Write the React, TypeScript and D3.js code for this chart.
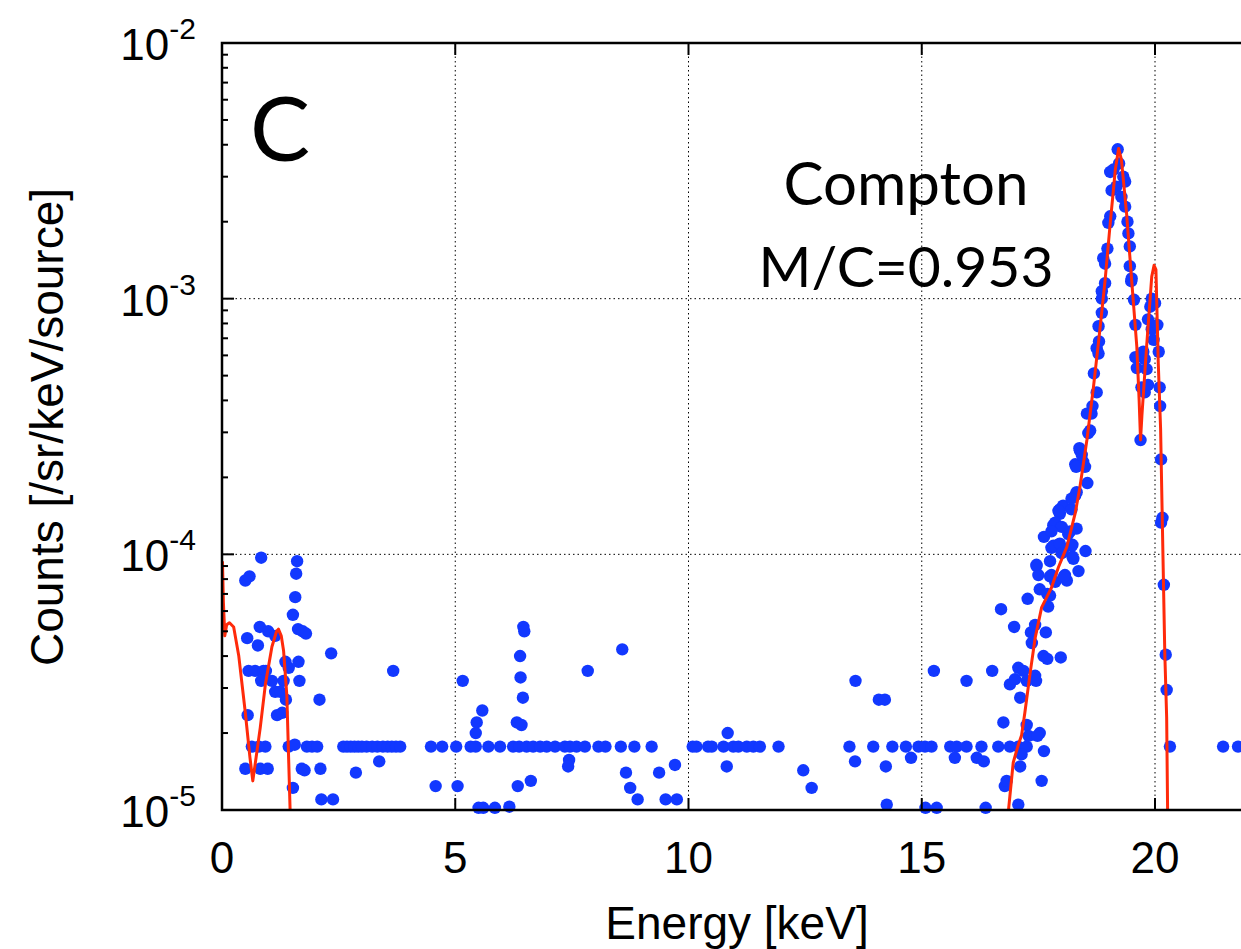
import React from "react";
import * as d3 from "d3";

// ---------- data ----------
const xTicks = [0, 5, 10, 15, 20];
const yExponents = [-2, -3, -4, -5];
const panelLabel = "C";
const annotationLines = ["Compton", "M/C=0.953"];
const xLabel = "Energy [keV]";
const yLabel = "Counts [/sr/keV/source]";

// measured points [energy keV, counts]
const lowEnergyPoints: [number, number][] = [
  [0.5, 7.9e-5], [0.59, 8.2e-5], [0.84, 9.7e-5], [1.61, 9.4e-5], [1.59, 8.4e-5],
  [1.57, 6.8e-5], [1.52, 5.8e-5], [0.81, 5.2e-5], [0.99, 5.0e-5], [1.14, 4.8e-5],
  [1.63, 5.1e-5], [1.73, 5.0e-5], [1.8, 4.9e-5], [0.54, 4.7e-5], [0.77, 4.4e-5],
  [2.34, 4.1e-5], [1.36, 3.8e-5], [1.43, 3.6e-5], [1.64, 3.8e-5], [0.57, 3.5e-5],
  [0.71, 3.5e-5], [0.89, 3.5e-5], [0.94, 3.5e-5], [0.84, 3.2e-5], [1.07, 3.2e-5],
  [1.32, 3.2e-5], [1.66, 3.2e-5], [1.14, 2.9e-5], [1.25, 2.9e-5], [1.37, 2.7e-5],
  [2.09, 2.7e-5], [0.55, 2.35e-5], [1.18, 2.35e-5], [1.29, 2.4e-5],
  [0.64, 1.77e-5], [0.79, 1.77e-5], [0.93, 1.77e-5], [1.43, 1.77e-5], [1.56, 1.8e-5],
  [1.82, 1.77e-5], [1.93, 1.77e-5], [2.04, 1.77e-5],
  [0.5, 1.45e-5], [0.82, 1.45e-5], [0.98, 1.45e-5], [1.71, 1.45e-5], [1.77, 1.43e-5],
  [2.11, 1.45e-5], [1.52, 1.22e-5], [2.13, 1.1e-5], [2.38, 1.1e-5],
];

const midEnergyPoints: [number, number][] = [
  [3.67, 3.5e-5], [3.37, 1.55e-5], [2.87, 1.4e-5],
  [2.6, 1.77e-5], [2.68, 1.77e-5], [2.76, 1.77e-5], [2.84, 1.77e-5], [2.92, 1.77e-5],
  [3.0, 1.77e-5], [3.1, 1.77e-5], [3.22, 1.77e-5], [3.33, 1.77e-5], [3.45, 1.77e-5],
  [3.55, 1.77e-5], [3.64, 1.77e-5], [3.73, 1.77e-5], [3.82, 1.77e-5],
  [4.48, 1.77e-5], [4.72, 1.77e-5], [5.02, 1.77e-5], [5.33, 1.77e-5], [5.44, 1.77e-5],
  [5.71, 1.77e-5], [5.96, 1.77e-5], [6.24, 1.77e-5], [6.37, 1.77e-5], [6.53, 1.77e-5],
  [6.67, 1.77e-5], [6.82, 1.77e-5], [6.96, 1.77e-5], [7.14, 1.77e-5], [7.35, 1.77e-5],
  [7.46, 1.77e-5], [7.6, 1.77e-5], [7.78, 1.77e-5], [8.07, 1.77e-5], [8.22, 1.77e-5],
  [8.55, 1.77e-5], [8.84, 1.77e-5], [9.21, 1.77e-5], [10.09, 1.77e-5],
  [5.16, 3.2e-5], [5.58, 2.45e-5], [5.46, 2.2e-5], [5.44, 2.0e-5], [4.58, 1.24e-5],
  [5.05, 1.24e-5], [5.5, 1.02e-5], [5.6, 1.02e-5], [5.85, 1.02e-5], [6.16, 1.03e-5],
  [6.46, 5.2e-5], [6.48, 5.0e-5], [8.58, 4.25e-5], [6.39, 4.0e-5], [7.84, 3.5e-5],
  [6.4, 3.3e-5], [6.45, 2.75e-5], [6.32, 2.2e-5], [6.42, 2.15e-5], [7.44, 1.57e-5],
  [7.42, 1.48e-5], [9.71, 1.5e-5], [6.34, 1.24e-5], [6.62, 1.3e-5], [8.66, 1.4e-5],
  [8.75, 1.22e-5], [8.91, 1.1e-5], [9.37, 1.4e-5], [9.51, 1.1e-5], [9.75, 1.1e-5],
  [10.17, 1.77e-5], [10.42, 1.77e-5], [10.5, 1.77e-5], [10.75, 1.77e-5], [10.96, 1.77e-5],
  [11.07, 1.77e-5], [11.25, 1.77e-5], [11.39, 1.77e-5], [11.53, 1.77e-5], [11.93, 1.77e-5],
  [10.84, 2.0e-5], [10.82, 1.48e-5], [12.46, 1.43e-5], [12.64, 1.22e-5],
  [13.58, 3.2e-5], [14.08, 2.7e-5], [14.21, 2.7e-5],
  [13.45, 1.77e-5], [13.96, 1.77e-5], [14.37, 1.77e-5], [14.66, 1.77e-5], [14.93, 1.77e-5],
  [15.07, 1.77e-5], [15.21, 1.77e-5], [15.61, 1.77e-5], [15.75, 1.77e-5], [15.96, 1.77e-5],
  [14.77, 1.6e-5], [13.57, 1.55e-5], [14.23, 1.48e-5], [15.71, 1.6e-5], [16.18, 1.6e-5],
  [14.25, 1.05e-5], [15.08, 1.02e-5], [15.32, 1.02e-5], [15.26, 3.5e-5], [15.96, 3.2e-5],
];

const peakPoints: [number, number][] = [
  [16.37, 1.02e-5], [17.07, 1.05e-5], [16.78, 1.24e-5], [16.82, 1.3e-5], [17.57, 1.3e-5],
  [17.11, 1.48e-5], [16.28, 1.77e-5], [16.64, 1.77e-5], [16.89, 1.77e-5], [17.07, 1.77e-5],
  [16.33, 1.55e-5], [17.25, 1.77e-5], [17.14, 1.65e-5], [17.62, 1.7e-5], [17.25, 2.15e-5],
  [17.29, 1.95e-5], [17.53, 2.0e-5], [17.48, 1.95e-5], [16.75, 2.2e-5], [17.11, 2.75e-5],
  [16.89, 3.1e-5], [17.0, 3.25e-5], [17.07, 3.6e-5], [17.18, 3.5e-5], [17.25, 3.2e-5],
  [17.43, 3.35e-5], [17.45, 3.2e-5], [16.51, 3.5e-5], [17.61, 4.0e-5], [17.69, 3.9e-5],
  [17.98, 3.95e-5], [17.36, 4.5e-5], [17.34, 4.95e-5], [17.43, 5.3e-5], [17.66, 4.95e-5],
  [16.98, 5.2e-5], [16.7, 6.1e-5], [17.27, 6.7e-5], [17.71, 6.25e-5], [17.53, 7.3e-5],
  [17.69, 7.0e-5], [17.46, 9.0e-5], [17.5, 8.3e-5], [17.78, 8.3e-5], [18.07, 8.3e-5],
  [18.11, 7.9e-5], [18.36, 8.6e-5], [17.75, 9.4e-5], [18.25, 9.6e-5], [17.75, 6.9e-5],
  [17.86, 7.8e-5], [18.05, 8.2e-5], [18.51, 1.03e-4], [18.23, 9.8e-5], [18.23, 1.09e-4],
  [17.62, 1.17e-4], [17.82, 1.3e-4], [17.96, 1.44e-4], [18.14, 1.2e-4], [18.32, 1.26e-4],
  [17.78, 1.06e-4], [17.93, 1.09e-4], [18.03, 1.04e-4], [17.96, 1.5e-4], [18.03, 1.55e-4],
  [18.21, 1.5e-4], [18.29, 1.7e-4], [18.32, 1.75e-4], [18.55, 1.9e-4], [18.29, 2.25e-4],
  [18.39, 2.55e-4], [18.46, 2.3e-4], [18.5, 2.2e-4], [18.57, 2.98e-4], [18.61, 3.05e-4],
  [18.75, 4.3e-4], [18.66, 3.8e-4], [18.54, 3.55e-4], [18.64, 3.55e-4], [18.38, 2.6e-4],
  [18.43, 2.45e-4], [18.31, 2.2e-4], [18.21, 1.65e-4], [17.93, 1.48e-4], [17.86, 1.33e-4],
  [18.0, 1.28e-4], [18.18, 1.23e-4], [17.78, 1.23e-4], [17.82, 1.08e-4], [17.96, 1.1e-4],
  [18.21, 1.08e-4], [18.0, 1.01e-4], [17.46, 9.1e-5], [17.75, 8.2e-5],
  [19.2, 3.84e-3], [19.23, 3.38e-3], [19.04, 3.13e-3], [19.11, 3.2e-3], [19.32, 3.0e-3],
  [19.36, 2.87e-3], [19.07, 2.65e-3], [19.17, 2.74e-3], [19.28, 2.5e-3], [19.36, 2.29e-3],
  [19.04, 2.1e-3], [19.0, 1.98e-3], [19.41, 2.0e-3], [19.43, 1.8e-3], [18.98, 1.57e-3],
  [18.89, 1.44e-3], [18.93, 1.37e-3], [19.46, 1.6e-3], [19.46, 1.34e-3], [19.5, 1.2e-3],
  [19.49, 1.17e-3], [18.93, 1.15e-3], [18.86, 1.07e-3], [18.86, 1.0e-3], [19.55, 9.9e-4],
  [18.86, 8.8e-4], [18.79, 7.8e-4], [19.58, 7.9e-4], [18.8, 6.8e-4], [18.75, 6.4e-4],
  [18.79, 6.1e-4], [18.69, 5.1e-4], [19.58, 5.9e-4], [19.61, 5.35e-4], [19.75, 6.2e-4],
  [19.78, 5.8e-4], [19.71, 4.5e-4], [19.78, 4.3e-4], [19.85, 4.6e-4], [19.93, 1.0e-3],
  [20.0, 9.6e-4], [19.9, 9.3e-4], [19.85, 8.3e-4], [19.93, 7.6e-4], [20.05, 7.9e-4],
  [19.97, 6.9e-4], [20.08, 6.2e-4], [20.1, 4.5e-4], [20.11, 3.8e-4], [19.82, 5.3e-4],
  [19.69, 2.8e-4], [20.13, 2.35e-4], [20.16, 1.39e-4], [20.13, 1.33e-4], [20.19, 7.6e-5],
  [20.23, 4.05e-5], [20.25, 2.95e-5], [20.32, 1.77e-5], [21.46, 1.77e-5], [21.78, 1.77e-5],
];

// model curve segments [energy keV, counts]
const modelLow: [number, number][] = [
  [0.01, 9.4e-5], [0.03, 6.5e-5], [0.06, 4.8e-5], [0.1, 5.3e-5], [0.16, 5.4e-5],
  [0.25, 5.2e-5], [0.36, 4.0e-5], [0.5, 2.4e-5], [0.6, 1.6e-5], [0.66, 1.3e-5],
  [0.73, 1.6e-5], [0.82, 2.1e-5], [0.93, 3.1e-5], [1.07, 4.35e-5], [1.17, 5.0e-5],
  [1.21, 5.1e-5], [1.27, 4.8e-5], [1.32, 4.2e-5], [1.39, 2.8e-5], [1.46, 1.0e-5],
  [1.48, 8e-6],
];

const modelPeak: [number, number][] = [
  [16.84, 8e-6], [16.86, 1.0e-5], [16.96, 1.53e-5], [17.07, 1.8e-5], [17.14, 1.96e-5],
  [17.21, 2.4e-5], [17.32, 3.4e-5], [17.43, 4.7e-5], [17.57, 6.2e-5], [17.68, 6.8e-5],
  [17.78, 7.4e-5], [17.93, 8.9e-5], [18.11, 1.07e-4], [18.29, 1.45e-4], [18.39, 1.83e-4],
  [18.54, 2.8e-4], [18.68, 4.5e-4], [18.82, 7.6e-4], [18.93, 1.18e-3], [19.04, 1.97e-3],
  [19.15, 3.2e-3], [19.22, 3.87e-3], [19.28, 3.5e-3], [19.39, 2.16e-3], [19.5, 1.18e-3],
  [19.61, 6.5e-4], [19.66, 4.0e-4], [19.69, 2.8e-4], [19.72, 3.5e-4], [19.82, 6.5e-4],
  [19.93, 1.22e-3], [19.98, 1.35e-3], [20.02, 1.3e-3], [20.07, 5.6e-4], [20.12, 3.1e-4],
  [20.17, 1.0e-4], [20.21, 4.1e-5], [20.25, 2.3e-5], [20.27, 1.0e-5], [20.28, 8e-6],
];

// ---------- layout ----------
const W = 1241;
const H = 949;
const left = 222;
const top = 43;
const bottom = 810;
const pxPerKeV = 46.65;

export default function App() {
  const x = d3.scaleLinear().domain([0, 20]).range([left, left + 20 * pxPerKeV]);
  const y = d3.scaleLog().domain([1e-5, 1e-2]).range([bottom, top]);
  const right = W + 10;

  const line = d3
    .line<[number, number]>()
    .x((d) => x(d[0]))
    .y((d) => y(d[1]));

  const allPoints = [...lowEnergyPoints, ...midEnergyPoints, ...peakPoints];

  const minorTicks: number[] = [];
  for (const e of [-5, -4, -3]) {
    for (let k = 2; k <= 9; k++) minorTicks.push(k * Math.pow(10, e));
  }

  const axisFont = "'Liberation Sans', Arial, Helvetica, sans-serif";
  const annotFont = "Lato, 'Open Sans', sans-serif";
  const blue = "#1238ff";
  const red = "#ff2a0a";

  return (
    <svg
      width={W}
      height={H}
      style={{ position: "absolute", left: 0, top: 0, background: "#fff" }}
    >
      <defs>
        <clipPath id="plotClip">
          <rect x={left} y={top} width={right - left} height={bottom - top} />
        </clipPath>
      </defs>
      <rect x={0} y={0} width={W} height={H} fill="#fff" />

      {/* grid */}
      {xTicks
        .filter((t) => t > 0)
        .map((t) => (
          <line
            key={"gx" + t}
            x1={x(t)}
            x2={x(t)}
            y1={top}
            y2={bottom}
            stroke="#000"
            strokeWidth={1}
            strokeDasharray="1.5,3"
          />
        ))}
      {[1e-3, 1e-4].map((v) => (
        <line
          key={"gy" + v}
          x1={left}
          x2={right}
          y1={y(v)}
          y2={y(v)}
          stroke="#000"
          strokeWidth={1}
          strokeDasharray="1.5,3"
        />
      ))}

      {/* data points */}
      <g>
        {allPoints.map((d, i) => (
          <circle key={"p" + i} cx={x(d[0])} cy={y(d[1])} r={6.2} fill={blue} />
        ))}
      </g>

      {/* model curve */}
      <g clipPath="url(#plotClip)">
        <path d={line(modelLow) || ""} fill="none" stroke={red} strokeWidth={3} strokeLinejoin="round" />
        <path d={line(modelPeak) || ""} fill="none" stroke={red} strokeWidth={3} strokeLinejoin="round" />
      </g>

      {/* ticks */}
      {yExponents.map((e) => (
        <line
          key={"yt" + e}
          x1={left}
          x2={left + 12}
          y1={y(Math.pow(10, e))}
          y2={y(Math.pow(10, e))}
          stroke="#000"
          strokeWidth={2}
        />
      ))}
      {minorTicks.map((v, i) => (
        <line
          key={"ym" + i}
          x1={left}
          x2={left + 6}
          y1={y(v)}
          y2={y(v)}
          stroke="#000"
          strokeWidth={2}
        />
      ))}
      {xTicks.map((t) => (
        <g key={"xt" + t}>
          <line x1={x(t)} x2={x(t)} y1={bottom} y2={bottom - 12} stroke="#000" strokeWidth={2} />
          <line x1={x(t)} x2={x(t)} y1={top} y2={top + 12} stroke="#000" strokeWidth={2} />
        </g>
      ))}

      {/* frame */}
      <path
        d={`M${right},${top} L${left},${top} L${left},${bottom} L${right},${bottom}`}
        fill="none"
        stroke="#000"
        strokeWidth={2.5}
      />

      {/* y tick labels */}
      {yExponents.map((e) => (
        <text
          key={"yl" + e}
          x={196}
          y={y(Math.pow(10, e)) + 17}
          textAnchor="end"
          fontFamily={axisFont}
          fontSize={44}
          fill="#000"
        >
          10
          <tspan dy={-21} fontSize={30}>
            {String(e)}
          </tspan>
        </text>
      ))}

      {/* x tick labels */}
      {xTicks.map((t) => (
        <text
          key={"xl" + t}
          x={x(t)}
          y={873}
          textAnchor="middle"
          fontFamily={axisFont}
          fontSize={44}
          fill="#000"
        >
          {t}
        </text>
      ))}

      {/* axis labels */}
      <text
        x={737}
        y={939}
        textAnchor="middle"
        fontFamily={axisFont}
        fontSize={46}
        fill="#000"
      >
        {xLabel}
      </text>
      <text
        transform="translate(63,427) rotate(-90)"
        textAnchor="middle"
        fontFamily={axisFont}
        fontSize={46}
        fill="#000"
      >
        {yLabel}
      </text>

      {/* annotations */}
      <text x={250} y={161} fontFamily={annotFont} fontSize={90} fill="#000">
        {panelLabel}
      </text>
      <text x={906} y={205} textAnchor="middle" fontFamily={annotFont} fontSize={60} fill="#000">
        {annotationLines[0]}
      </text>
      <text x={906} y={287} textAnchor="middle" fontFamily={annotFont} fontSize={57} fill="#000">
        {annotationLines[1]}
      </text>
    </svg>
  );
}
